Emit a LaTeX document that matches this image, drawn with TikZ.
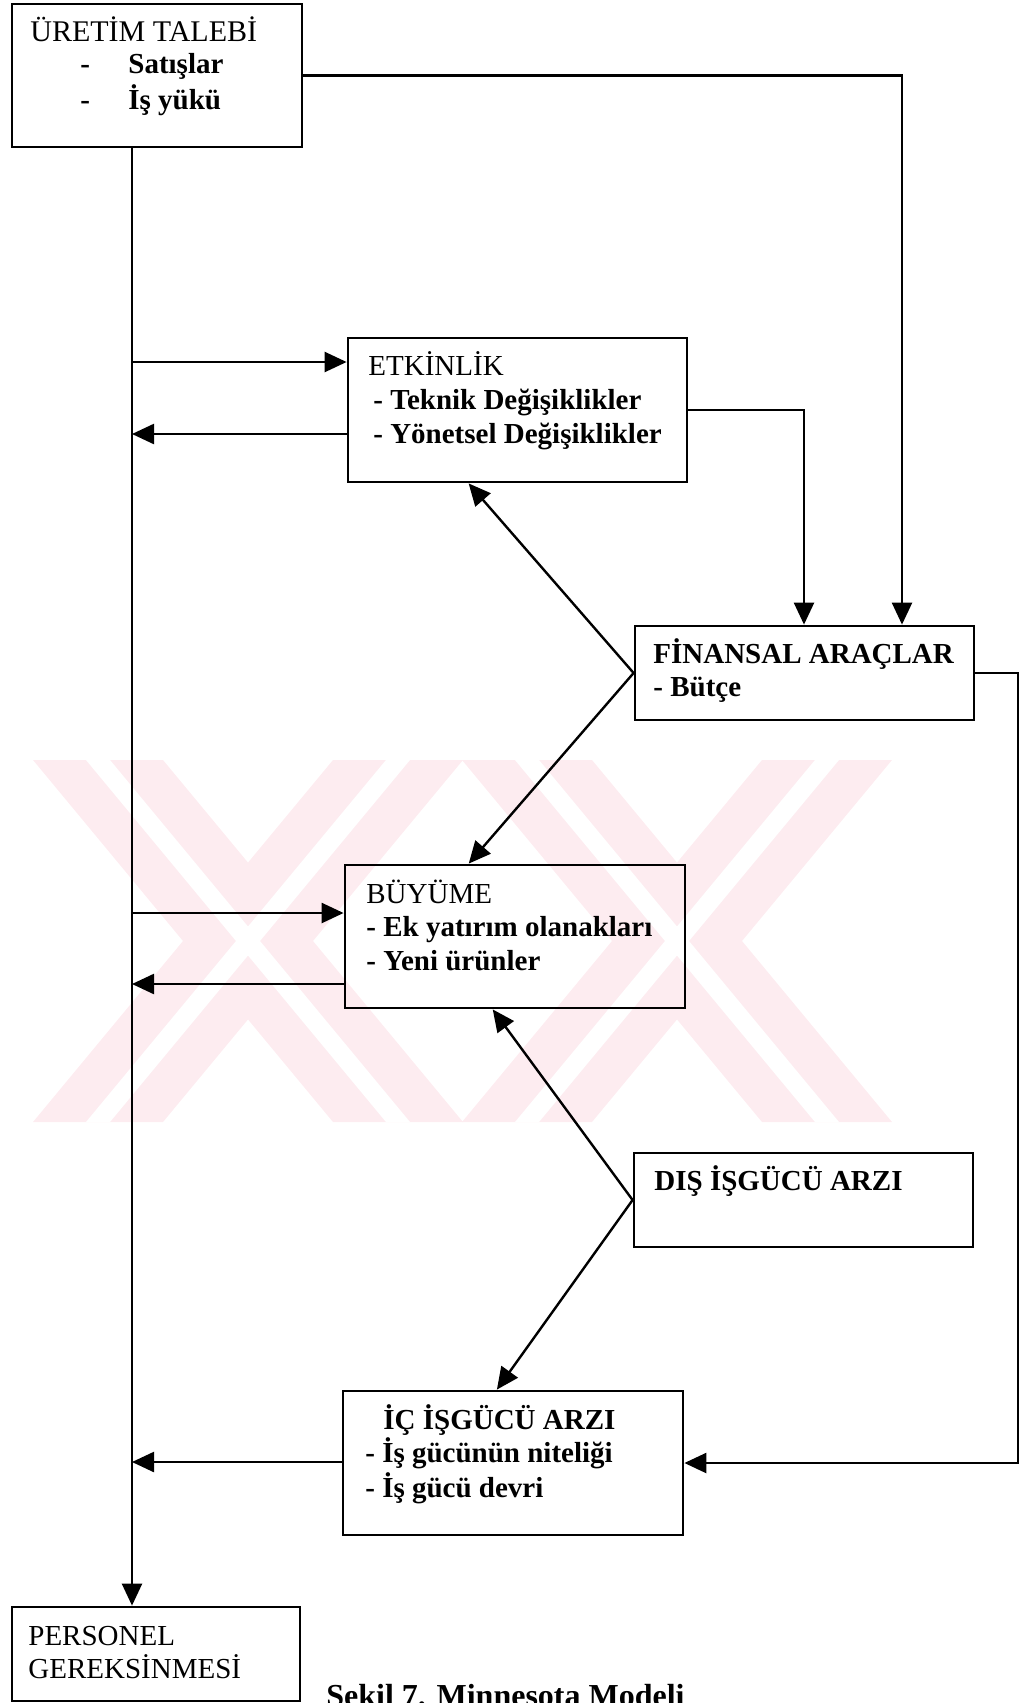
\documentclass[tikz,border=0pt]{standalone}
\usepackage{fontspec}
\setmainfont{Liberation Serif}
\usetikzlibrary{arrows.meta,calc}
\definecolor{wmpink}{RGB}{253,236,240}
\begin{document}
\begin{tikzpicture}[x=0.5pt,y=-0.5pt,
  box/.style={draw, line width=1.4pt, inner sep=0pt},
  txt/.style={anchor=base west, inner sep=0pt, font=\fontsize{14.5}{17}\selectfont},
  btxt/.style={anchor=base west, inner sep=0pt, font=\fontsize{14.5}{17}\selectfont\bfseries},
  link/.style={line width=1.2pt},
  arr/.style={link, -{Triangle[length=11pt,width=10pt]}}]
\useasboundingbox (0,0) rectangle (1019,1703);
\clip (0,0) rectangle (1019,1703);

% faint background emblem: two crossed bar pairs
\begin{scope}
  \clip (0,760) rectangle (1019,1122);
  \foreach \cx in {248,677}{
    \fill[wmpink] (\cx-215,760) -- (\cx-85,760) -- (\cx+215,1122) -- (\cx+85,1122) -- cycle;
    \fill[wmpink] (\cx+85,760) -- (\cx+215,760) -- (\cx-85,1122) -- (\cx-215,1122) -- cycle;
  }
  \foreach \cx in {248,677}{
    \fill[white] (\cx-162,760) -- (\cx-138,760) -- (\cx+162,1122) -- (\cx+138,1122) -- cycle;
    \fill[white] (\cx+138,760) -- (\cx+162,760) -- (\cx-138,1122) -- (\cx-162,1122) -- cycle;
  }
\end{scope}

% boxes
\node[box, minimum width=145pt, minimum height=71.5pt] (ur) at (157,75.5) {};
\node[box, minimum width=169.5pt, minimum height=72pt] (etk) at (517.5,410) {};
\node[box, minimum width=169.5pt, minimum height=47pt] (fin) at (804.5,673) {};
\node[box, minimum width=170pt, minimum height=71.5pt] (buy) at (515,936.5) {};
\node[box, minimum width=169.5pt, minimum height=47pt] (dis) at (803.5,1200) {};
\node[box, minimum width=170pt, minimum height=72pt] (ic) at (513,1463) {};
\node[box, minimum width=144pt, minimum height=47pt] (per) at (156,1654) {};

% box texts
\node[txt, font=\fontsize{15}{18}\selectfont] (urT) at (30,41) {ÜRETİM TALEBİ};
\node[btxt] (urD1) at (80,73) {-};
\node[btxt] (urA) at (128,73) {Satışlar};
\node[btxt] (urD2) at (80,109) {-};
\node[btxt] (urB) at (128,109) {İş yükü};

\node[txt] (etkT) at (368,375) {ETKİNLİK};
\node[btxt] (etkA) at (373,409) {- Teknik Değişiklikler};
\node[btxt] (etkB) at (373,443) {- Yönetsel Değişiklikler};

\node[btxt] (finT) at (653,663) {FİNANSAL ARAÇLAR};
\node[btxt] (finA) at (653,696) {- Bütçe};

\node[txt] (buyT) at (366,903) {BÜYÜME};
\node[btxt] (buyA) at (366,936) {- Ek yatırım olanakları};
\node[btxt] (buyB) at (366,970) {- Yeni ürünler};

\node[btxt] (disT) at (654,1190) {DIŞ İŞGÜCÜ ARZI};

\node[btxt] (icT) at (383,1429) {İÇ İŞGÜCÜ ARZI};
\node[btxt] (icA) at (365,1462) {- İş gücünün niteliği};
\node[btxt] (icB) at (365,1497) {- İş gücü devri};

\node[txt] (perA) at (28,1645) {PERSONEL};
\node[txt] (perB) at (28,1678) {GEREKSİNMESİ};

\node[anchor=base west, inner sep=0pt, font=\fontsize{16}{19}\selectfont\bfseries] (cap) at (326,1706) {Şekil 7. Minnesota Modeli};

% helper coordinates
\coordinate (tk) at (132,0);
\coordinate (ux) at (902,0);
\coordinate (ex) at (804,0);
\coordinate (rx) at (1018,0);
\coordinate (j1) at (132,362);
\coordinate (j2) at (132,434);
\coordinate (j3) at (132,913);
\coordinate (j4) at (132,984);
\coordinate (j5) at (132,1462);

% trunk line
\draw[arr] (tk |- ur.south) -- (tk |- per.north);

% top links to the budget box
\draw[arr] (ur.east) -| (ux |- fin.north);
\draw[arr] (etk.east) -| (ex |- fin.north);

% trunk <-> boxes
\draw[arr] (j1) -- (j1 -| etk.west);
\draw[arr] (j2 -| etk.west) -- (j2);
\draw[arr] (j3) -- (j3 -| buy.west);
\draw[arr] (j4 -| buy.west) -- (j4);
\draw[arr] (j5 -| ic.west) -- (j5);

% budget feedback to internal supply
\draw[arr] (fin.east) -| (rx |- ic.east) -- (ic.east);

% diagonal links
\draw[arr] (fin.west) -- ($(etk.south west)!0.357!(etk.south east)$);
\draw[arr] (fin.west) -- ($(buy.north west)!0.365!(buy.north east)$);
\draw[arr] (dis.west) -- ($(buy.south west)!0.435!(buy.south east)$);
\draw[arr] (dis.west) -- ($(ic.north west)!0.453!(ic.north east)$);
\end{tikzpicture}
\end{document}
